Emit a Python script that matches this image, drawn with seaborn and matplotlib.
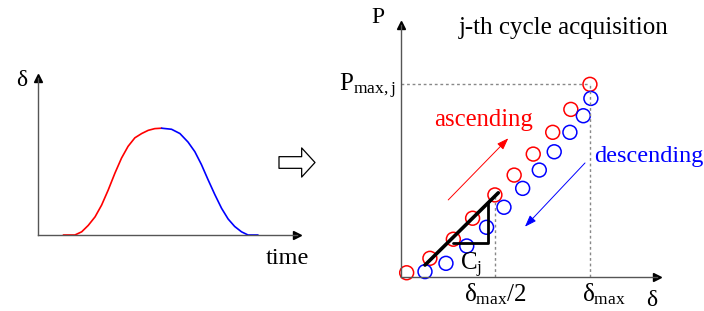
import matplotlib
matplotlib.use('Agg')
import matplotlib.pyplot as plt
import seaborn as sns

# left panel: imposed displacement history
t_up = [0.98, 1.42, 1.68, 1.93, 2.19, 2.44, 2.69, 2.95, 3.20, 3.45, 3.71, 3.97, 4.22, 4.47, 4.73]
d_up = [0.0, 0.0, 0.03, 0.09, 0.17, 0.28, 0.42, 0.58, 0.72, 0.83, 0.91, 0.95, 0.98, 0.996, 1.0]
t_down = [4.73, 5.11, 5.43, 5.74, 6.00, 6.25, 6.50, 6.76, 7.02, 7.27, 7.52, 7.78, 8.03, 8.41]
d_down = [1.0, 0.99, 0.95, 0.87, 0.78, 0.66, 0.52, 0.38, 0.25, 0.15, 0.08, 0.03, 0.0, 0.0]

# right panel: load-displacement points of the j-th cycle (normalised)
asc_d = [0.030, 0.153, 0.277, 0.379, 0.497, 0.599, 0.700, 0.803, 0.899, 1.0]
asc_p = [0.022, 0.097, 0.196, 0.305, 0.426, 0.529, 0.638, 0.751, 0.870, 1.0]
desc_d = [0.127, 0.238, 0.348, 0.453, 0.545, 0.644, 0.732, 0.811, 0.894, 0.965, 1.005]
desc_p = [0.028, 0.071, 0.161, 0.258, 0.362, 0.460, 0.555, 0.650, 0.751, 0.837, 0.927]

# secant stiffness line and slope triangle
fit_d = [0.127, 0.515]
fit_p = [0.062, 0.437]
tri_d = [0.277, 0.462, 0.462]
tri_p = [0.178, 0.178, 0.382]

d_max = 1.0
p_max = 1.0

sns.set_style('white')
plt.rcParams['font.family'] = ['Liberation Serif', 'DejaVu Serif']
plt.rcParams['text.color'] = 'black'
plt.rcParams['mathtext.fontset'] = 'custom'
plt.rcParams['mathtext.rm'] = 'Liberation Serif'
plt.rcParams['mathtext.it'] = 'Liberation Serif:italic'

W, H = 704, 311
fig = plt.figure(figsize=(7.04, 3.11), dpi=100)

def make_axes(x0, y0, x1, y1):
    # pixel box -> figure fraction (y measured from top)
    return fig.add_axes([x0 / W, (H - y0) / H, (x1 - x0) / W, (y0 - y1) / H])

axc = '#555555'

def style(ax):
    for s in ['top', 'right']:
        ax.spines[s].set_visible(False)
    for s in ['left', 'bottom']:
        ax.spines[s].set_color(axc)
        ax.spines[s].set_linewidth(1)
    ax.set_xticks([])
    ax.set_yticks([])
    ax.patch.set_alpha(0)
    ax.plot(1, 0, '>', color='black', ms=6, transform=ax.transAxes, clip_on=False)
    ax.plot(0, 1, '^', color='black', ms=6, transform=ax.transAxes, clip_on=False)

# ---- left: delta vs time
ax1 = make_axes(37.7, 235, 297, 78)
style(ax1)
ax1.set_xlim(0, 9.9)
ax1.set_ylim(0, 1.47)
sns.lineplot(x=t_up, y=d_up, color='red', lw=1.2, ax=ax1, sort=False, estimator=None,
             solid_joinstyle='round')
sns.lineplot(x=t_down, y=d_down, color='blue', lw=1.2, ax=ax1, sort=False, estimator=None,
             solid_joinstyle='round')
ax1.text(-0.6, 1.45, 'δ', fontsize=17, ha='center', va='center')
ax1.text(9.52, -0.22, 'time', fontsize=17.5, ha='center', va='center')

# hollow block arrow between the panels
ax1.annotate('', xy=(315, H - 162.5), xytext=(279, H - 162.5),
             xycoords='figure pixels', textcoords='figure pixels',
             arrowprops=dict(arrowstyle='simple,head_length=0.48,head_width=1.05,tail_width=0.42',
                             mutation_scale=20, fc='white', ec='black', lw=0.9,
                             shrinkA=0, shrinkB=0))

# ---- right: P vs delta
ax2 = make_axes(401, 277, 657, 25)
style(ax2)
ax2.set_xlim(0, 1.355)
ax2.set_ylim(0, 1.308)

dash = dict(color='#888888', lw=1, ls=(0, (2, 2)))
ax2.plot([0, d_max], [p_max, p_max], **dash)
ax2.plot([d_max, d_max], [0, p_max], **dash)
ax2.plot([d_max / 2, d_max / 2], [0, asc_p[4]], **dash)

sns.scatterplot(x=asc_d, y=asc_p, marker='o', s=100, facecolor='none',
                edgecolor='red', linewidth=1.1, ax=ax2, clip_on=False)
sns.scatterplot(x=desc_d, y=desc_p, marker='o', s=100, facecolor='none',
                edgecolor='blue', linewidth=1.1, ax=ax2, clip_on=False)

sns.lineplot(x=fit_d, y=fit_p, color='black', lw=2.6, ax=ax2, sort=False, estimator=None)
sns.lineplot(x=tri_d, y=tri_p, color='black', lw=2.0, ax=ax2, sort=False, estimator=None)

ax2.annotate('', xy=(0.568, 0.720), xytext=(0.250, 0.400),
             arrowprops=dict(arrowstyle='-|>,head_length=0.7,head_width=0.25',
                             color='red', lw=0.7, shrinkA=0, shrinkB=0))
ax2.annotate('', xy=(0.656, 0.261), xytext=(0.974, 0.592),
             arrowprops=dict(arrowstyle='-|>,head_length=0.7,head_width=0.25',
                             color='blue', lw=0.7, shrinkA=0, shrinkB=0))

ax2.text(0.437, 0.815, 'ascending', color='red', fontsize=17.8, ha='center', va='center')
ax2.text(1.31, 0.628, 'descending', color='blue', fontsize=17.5, ha='center', va='center')
ax2.text(0.862, 1.29, 'j-th cycle acquisition', fontsize=18, ha='center', va='center')
ax2.text(-0.12, 1.345, 'P', fontsize=17, ha='center', va='center')
ax2.text(-0.03, 0.99, r'$\mathrm{P}_{\mathrm{max,j}}$', fontsize=18, ha='right', va='center')
ax2.text(0.312, 0.036, r'$\mathrm{C}_{\mathrm{j}}$', fontsize=18, ha='left', va='baseline')
ax2.text(d_max / 2, -0.125, r'$\mathrm{δ}_{\mathrm{max}}\mathrm{/2}$', fontsize=18,
         ha='center', va='baseline')
ax2.text(0.956, -0.125, r'$\mathrm{δ}_{\mathrm{max}}$', fontsize=18, ha='left', va='baseline')
ax2.text(1.328, -0.148, 'δ', fontsize=17, ha='center', va='baseline')

fig.savefig('out.png', dpi=100)
